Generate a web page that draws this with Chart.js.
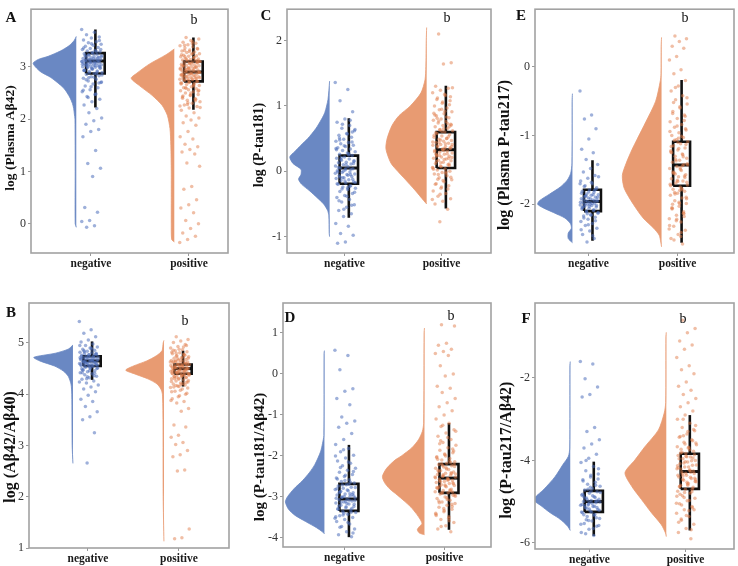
<!DOCTYPE html>
<html><head><meta charset="utf-8">
<script src="https://cdn.jsdelivr.net/npm/chart.js@4.4.1/dist/chart.umd.min.js"></script>
<style>
html,body{margin:0;padding:0;background:#fff;}
#wrap{position:relative;width:738px;height:566px;overflow:hidden;background:#fff;}
canvas{position:absolute;}
</style></head><body><div id="wrap">
<canvas id="cA" width="245" height="280" style="left:0px;top:0px"></canvas>
<canvas id="cC" width="250" height="280" style="left:245px;top:0px"></canvas>
<canvas id="cE" width="243" height="280" style="left:495px;top:0px"></canvas>
<canvas id="cB" width="245" height="286" style="left:0px;top:280px"></canvas>
<canvas id="cD" width="250" height="286" style="left:245px;top:280px"></canvas>
<canvas id="cF" width="243" height="286" style="left:495px;top:280px"></canvas>
</div>
<script>
// ---------- DATA ----------
const categories = ['negative', 'positive'];
const titleA = 'log (Plasma A\u03b242)';
const titleB = 'log (A\u03b242/A\u03b240)';
const titleC = 'log (P-tau181)';
const titleD = 'log (P-tau181/A\u03b242)';
const titleE = 'log (Plasma P-tau217)';
const titleF = 'log (P-tau217/A\u03b242)';
const signifLabel = 'b';

const yTicksA = [0, 1, 2, 3];
const yTicksB = [1, 2, 3, 4, 5];
const yTicksC = [-1, 0, 1, 2];
const yTicksD = [-4, -3, -2, -1, 0, 1];
const yTicksE = [-2, -1, 0];
const yTicksF = [-6, -4, -2];

// violin outlines: levels (y) and relative density
const vA_negY = [3.58, 3.5, 3.4, 3.3, 3.2, 3.14, 3.07, 3.0, 2.9, 2.8, 2.7, 2.6, 2.5, 2.4, 2.3, 2.2, 2.1, 2.0, 1.0, 0.0, -0.07];
const vA_negD = [0, 0.05, 0.17, 0.37, 0.65, 0.88, 1.0, 0.95, 0.82, 0.6, 0.44, 0.3, 0.21, 0.14, 0.09, 0.06, 0.045, 0.03, 0.025, 0.025, 0];
const vA_posY = [3.34, 3.23, 3.05, 2.87, 2.78, 2.64, 2.45, 2.26, 2.07, 1.82, 1.5, 1.0, 0.5, 0.0, -0.3, -0.35];
const vA_posD = [0, 0.19, 0.58, 0.88, 1.0, 0.81, 0.51, 0.28, 0.16, 0.1, 0.08, 0.07, 0.07, 0.07, 0.06, 0];

const vB_negY = [4.96, 4.88, 4.8, 4.72, 4.65, 4.55, 4.45, 4.35, 4.2, 4.0, 3.0, 2.65];
const vB_negD = [0, 0.12, 0.45, 1.0, 0.85, 0.47, 0.24, 0.12, 0.05, 0.03, 0.02, 0];
const vB_posY = [5.05, 5.0, 4.85, 4.75, 4.65, 4.55, 4.47, 4.4, 4.3, 4.2, 4.1, 4.0, 3.5, 2.0, 1.13];
const vB_posD = [0, 0.02, 0.05, 0.2, 0.45, 0.8, 1.0, 0.78, 0.42, 0.18, 0.08, 0.04, 0.025, 0.02, 0];

const vC_negY = [1.38, 1.1, 0.9, 0.8, 0.65, 0.5, 0.4, 0.3, 0.22, 0.12, 0.03, -0.05, -0.12, -0.2, -0.3, -0.4, -0.5, -0.6, -0.68, -0.95, -1.0];
const vC_negD = [0, 0.04, 0.12, 0.2, 0.35, 0.55, 0.72, 0.88, 1.0, 0.92, 0.72, 0.72, 0.78, 0.7, 0.5, 0.32, 0.15, 0.05, 0.02, 0.01, 0];
const vC_posY = [2.2, 2.0, 1.6, 1.4, 1.2, 1.0, 0.85, 0.7, 0.5, 0.35, 0.2, 0.1, -0.1, -0.3, -0.45, -0.5];
const vC_posD = [0, 0.01, 0.02, 0.04, 0.14, 0.4, 0.68, 0.85, 0.97, 1.0, 0.93, 0.85, 0.56, 0.27, 0.07, 0];

const vD_negY = [0.57, 0.5, -1.5, -1.7, -1.9, -2.2, -2.4, -2.6, -2.8, -3.0, -3.12, -3.3, -3.45, -3.6, -3.75, -3.85, -3.9];
const vD_negD = [0, 0.01, 0.015, 0.05, 0.1, 0.24, 0.38, 0.56, 0.78, 0.95, 1.0, 0.92, 0.75, 0.48, 0.2, 0.05, 0];
const vD_posY = [1.12, 1.0, -1.2, -1.4, -1.6, -1.8, -2.0, -2.1, -2.3, -2.5, -2.65, -2.8, -2.95, -3.1, -3.25, -3.4, -3.55, -3.65, -3.72, -3.8, -3.88, -3.92];
const vD_posD = [0, 0.01, 0.02, 0.05, 0.14, 0.3, 0.55, 0.7, 0.9, 1.0, 0.95, 0.83, 0.65, 0.48, 0.32, 0.2, 0.1, 0.06, 0.12, 0.17, 0.12, 0];

const vE_negY = [-0.39, -0.5, -1.4, -1.55, -1.65, -1.75, -1.85, -1.95, -2.0, -2.05, -2.12, -2.2, -2.28, -2.35, -2.42, -2.5, -2.56];
const vE_negD = [0, 0.01, 0.015, 0.05, 0.15, 0.35, 0.65, 0.95, 1.0, 0.85, 0.55, 0.22, 0.06, 0.03, 0.12, 0.12, 0];
const vE_posY = [0.43, 0.3, -0.1, -0.2, -0.5, -0.8, -1.05, -1.2, -1.4, -1.58, -1.77, -2.0, -2.2, -2.35, -2.45, -2.55, -2.62];
const vE_posD = [0, 0.01, 0.015, 0.03, 0.15, 0.4, 0.62, 0.75, 0.9, 1.0, 0.95, 0.72, 0.47, 0.2, 0.06, 0.02, 0];

const vF_negY = [-1.6, -1.7, -3.7, -3.9, -4.1, -4.4, -4.7, -4.95, -5.1, -5.27, -5.4, -5.5, -5.6, -5.7];
const vF_negD = [0, 0.01, 0.015, 0.05, 0.2, 0.42, 0.72, 1.0, 0.8, 0.55, 0.32, 0.18, 0.07, 0];
const vF_posY = [-0.89, -1.0, -2.6, -2.85, -3.26, -3.67, -3.99, -4.3, -4.64, -4.95, -5.27, -5.56, -5.76, -5.85];
const vF_posD = [0, 0.01, 0.015, 0.05, 0.19, 0.52, 0.76, 1.0, 0.83, 0.6, 0.36, 0.12, 0.02, 0];

// individual observations (read approximately)
const pA_neg = [3.71,3.66,3.61,3.57,3.55,3.51,3.48,3.46,3.43,3.41,3.39,3.37,3.35,3.33,3.31,3.3,3.28,3.27,3.25,3.24,3.22,3.21,3.2,3.19,3.18,3.17,3.16,3.15,3.15,3.14,3.13,3.12,3.12,3.11,3.1,3.09,3.09,3.08,3.07,3.06,3.06,3.05,3.04,3.03,3.03,3.02,3.01,3.0,2.99,2.98,2.97,2.95,2.94,2.92,2.91,2.89,2.87,2.85,2.83,2.81,2.78,2.76,2.73,2.7,2.67,2.63,2.6,2.56,2.52,2.47,2.43,2.38,2.33,2.27,2.2,2.12,2.02,1.97,1.9,1.8,1.76,1.66,1.4,1.15,1.06,0.9,0.31,0.22,0.06,0.04,-0.04,-0.07,
  3.5,3.44,3.36,3.29,3.23,3.19,3.16,3.13,3.11,3.08,3.05,3.02,3.0,2.98,2.96,2.93,2.9,2.88,2.84,2.8,2.75,2.69,2.62,2.55,2.48,2.41,3.33,3.26,3.21,3.17,3.14,3.1,3.07,3.04,3.01,2.97,2.93,2.86,2.79,2.71];
const pA_pos = [3.56,3.53,3.5,3.47,3.45,3.42,3.4,3.38,3.36,3.34,3.32,3.3,3.28,3.27,3.25,3.24,3.22,3.21,3.2,3.19,3.17,3.16,3.15,3.14,3.13,3.12,3.11,3.1,3.09,3.08,3.07,3.06,3.05,3.04,3.03,3.02,3.01,3.0,2.99,2.98,2.97,2.96,2.95,2.94,2.93,2.92,2.91,2.9,2.89,2.88,2.87,2.86,2.85,2.84,2.83,2.82,2.81,2.8,2.79,2.78,2.77,2.76,2.75,2.74,2.72,2.71,2.69,2.68,2.66,2.64,2.62,2.6,2.58,2.56,2.54,2.52,2.5,2.47,2.45,2.42,2.39,2.36,2.33,2.3,2.27,2.24,2.21,2.17,2.12,2.06,2.02,1.98,1.93,1.88,1.76,1.66,1.62,1.52,1.47,1.42,1.37,1.33,1.16,1.1,0.71,0.66,0.46,0.36,0.3,0.21,0.06,0.0,-0.09,-0.18,-0.24,-0.3,-0.36,
  3.48,3.41,3.35,3.29,3.23,3.18,3.14,3.1,3.06,3.03,3.0,2.97,2.95,2.93,2.91,2.89,2.87,2.85,2.83,2.81,2.79,2.77,2.75,2.73,2.7,2.67,2.63,2.59,2.55,2.5,2.44,2.38,2.31,2.25,3.26,3.19,3.12,3.07,3.02,2.98,2.94,2.9,2.86,2.82,2.78,2.74,2.69,2.65,2.6,2.53,2.46,2.4,2.35,2.28,2.22,3.44,3.31,3.08,2.96,2.84];
const pB_neg = [5.42,5.26,5.19,5.12,5.06,5.02,4.98,4.95,4.92,4.9,4.88,4.86,4.84,4.82,4.81,4.79,4.78,4.77,4.76,4.75,4.74,4.73,4.72,4.71,4.7,4.69,4.68,4.67,4.66,4.65,4.64,4.63,4.62,4.61,4.6,4.59,4.58,4.57,4.56,4.55,4.54,4.53,4.51,4.5,4.48,4.46,4.44,4.42,4.4,4.38,4.35,4.32,4.29,4.26,4.22,4.18,4.14,4.1,4.05,3.98,3.9,3.86,3.76,3.66,3.56,3.5,3.25,2.66,
  4.95,4.88,4.83,4.8,4.77,4.74,4.72,4.7,4.68,4.66,4.64,4.62,4.6,4.58,4.56,4.53,4.5,4.46,4.42,4.36,4.3,4.24,4.9,4.85,4.78,4.73,4.69,4.65,4.61,4.57,4.52,4.47,4.41,4.34,4.71,4.67,4.63,4.59,4.55,4.49];
const pB_pos = [5.12,5.07,5.04,5.01,4.97,4.93,4.9,4.87,4.85,4.83,4.81,4.79,4.77,4.75,4.73,4.71,4.7,4.68,4.67,4.66,4.65,4.64,4.63,4.62,4.61,4.6,4.59,4.58,4.57,4.56,4.55,4.54,4.53,4.52,4.51,4.5,4.49,4.48,4.47,4.46,4.45,4.44,4.43,4.42,4.41,4.4,4.39,4.38,4.37,4.36,4.34,4.33,4.31,4.3,4.28,4.26,4.24,4.22,4.2,4.18,4.16,4.13,4.1,4.06,4.02,3.97,3.91,3.86,3.83,3.72,3.67,3.4,3.36,3.2,3.16,3.06,3.02,2.9,2.82,2.78,2.52,2.5,1.37,1.2,1.18,
  4.95,4.88,4.82,4.78,4.74,4.7,4.67,4.64,4.61,4.58,4.56,4.54,4.52,4.5,4.48,4.46,4.44,4.42,4.4,4.38,4.35,4.32,4.29,4.25,4.21,4.17,4.12,4.08,4.86,4.76,4.69,4.63,4.57,4.53,4.49,4.45,4.41,4.37,4.33,4.27,4.19,4.14,4.0,3.95,3.88,4.72,4.65,4.59,4.55,4.51,4.47,4.43,4.39,4.34,4.3,4.23,4.15,4.05,4.92,4.8];
const pC_neg = [1.36,1.25,1.08,0.91,0.8,0.75,0.7,0.66,0.62,0.58,0.55,0.52,0.49,0.46,0.44,0.42,0.4,0.38,0.36,0.34,0.32,0.3,0.28,0.26,0.24,0.22,0.2,0.19,0.17,0.16,0.14,0.13,0.11,0.1,0.08,0.07,0.05,0.04,0.02,0.01,-0.01,-0.02,-0.04,-0.05,-0.07,-0.08,-0.1,-0.11,-0.13,-0.14,-0.16,-0.18,-0.2,-0.22,-0.24,-0.26,-0.28,-0.31,-0.34,-0.37,-0.4,-0.43,-0.47,-0.51,-0.55,-0.6,-0.65,-0.69,-0.8,-0.84,-0.95,-0.98,-1.08,-1.1,
  0.78,0.72,0.64,0.57,0.51,0.45,0.39,0.33,0.27,0.21,0.15,0.1,0.06,0.03,0.0,-0.03,-0.06,-0.09,-0.12,-0.15,-0.19,-0.23,-0.27,-0.32,-0.38,-0.45,-0.52,-0.58,0.35,0.25,0.18,0.12,0.04,-0.01,-0.05,-0.1,-0.17,-0.25,0.48,0.6];
const pC_pos = [2.1,1.66,1.64,1.3,1.27,1.24,1.2,1.16,1.12,1.08,1.04,1.0,0.97,0.94,0.91,0.88,0.85,0.82,0.8,0.78,0.76,0.74,0.72,0.7,0.68,0.66,0.64,0.62,0.6,0.58,0.56,0.54,0.52,0.5,0.49,0.47,0.46,0.44,0.43,0.41,0.4,0.38,0.37,0.35,0.34,0.32,0.31,0.29,0.28,0.26,0.25,0.23,0.22,0.2,0.19,0.17,0.16,0.14,0.12,0.1,0.08,0.06,0.04,0.02,0.0,-0.02,-0.04,-0.07,-0.1,-0.13,-0.16,-0.19,-0.22,-0.26,-0.3,-0.34,-0.38,-0.42,-0.46,-0.5,-0.58,-0.77,
  1.28,1.18,1.1,1.02,0.95,0.89,0.83,0.77,0.71,0.65,0.59,0.53,0.48,0.45,0.42,0.39,0.36,0.33,0.3,0.27,0.24,0.21,0.18,0.15,0.11,0.07,0.03,-0.01,-0.05,-0.09,-0.14,-0.2,-0.27,-0.35,-0.43,0.92,0.81,0.69,0.61,0.55,0.5,0.44,0.38,0.32,0.26,0.2,0.13,0.05,-0.03,-0.12,1.14,1.06,0.86,0.73,0.63,0.41,0.35,0.23,0.09,-0.24];
const pD_neg = [0.58,0.45,0.1,-0.36,-0.42,-0.6,-0.75,-1.05,-1.15,-1.2,-1.3,-1.45,-1.6,-1.72,-1.82,-1.9,-1.98,-2.05,-2.12,-2.18,-2.24,-2.3,-2.35,-2.4,-2.45,-2.5,-2.54,-2.58,-2.62,-2.66,-2.7,-2.73,-2.76,-2.79,-2.82,-2.85,-2.88,-2.9,-2.93,-2.95,-2.98,-3.0,-3.02,-3.05,-3.07,-3.1,-3.12,-3.15,-3.17,-3.2,-3.23,-3.26,-3.29,-3.32,-3.35,-3.38,-3.42,-3.46,-3.5,-3.55,-3.6,-3.66,-3.72,-3.78,-3.85,-3.92,-3.97,
  -1.85,-2.0,-2.15,-2.28,-2.38,-2.47,-2.56,-2.64,-2.71,-2.77,-2.83,-2.89,-2.94,-2.99,-3.03,-3.08,-3.13,-3.18,-3.24,-3.3,-3.37,-3.44,-3.52,-3.62,-3.74,-3.88,-2.6,-2.8,-2.92,-3.01,-3.09,-3.16,-3.22,-3.28,-3.4,-3.48,-2.69,-2.86,-2.97,-3.11];
const pD_pos = [1.2,1.17,0.75,0.7,0.6,0.55,0.5,0.45,0.2,0.0,-0.05,-0.3,-0.35,-0.45,-0.6,-0.7,-0.8,-0.9,-1.0,-1.1,-1.2,-1.28,-1.36,-1.44,-1.52,-1.6,-1.67,-1.74,-1.8,-1.86,-1.92,-1.97,-2.02,-2.06,-2.1,-2.14,-2.18,-2.21,-2.24,-2.27,-2.3,-2.33,-2.36,-2.39,-2.42,-2.45,-2.47,-2.5,-2.52,-2.55,-2.57,-2.6,-2.62,-2.65,-2.67,-2.7,-2.72,-2.75,-2.78,-2.81,-2.84,-2.87,-2.9,-2.93,-2.96,-3.0,-3.04,-3.08,-3.12,-3.16,-3.2,-3.25,-3.3,-3.36,-3.42,-3.48,-3.55,-3.62,-3.7,-3.78,-3.85,
  -1.25,-1.4,-1.55,-1.7,-1.83,-1.95,-2.04,-2.12,-2.19,-2.26,-2.32,-2.38,-2.43,-2.48,-2.53,-2.58,-2.63,-2.68,-2.73,-2.79,-2.85,-2.91,-2.98,-3.06,-3.14,-3.23,-3.33,-3.45,-3.58,-3.72,-2.2,-2.29,-2.35,-2.41,-2.46,-2.51,-2.56,-2.61,-2.66,-2.71,-2.77,-2.83,-2.89,-2.95,-3.02,-3.1,-3.18,-3.28,-3.4,-3.52,-1.63,-1.88,-2.0,-2.08,-2.16,-2.23,-2.44,-2.59,-2.74,-2.88];
const pE_neg = [-0.35,-0.7,-0.76,-0.9,-1.05,-1.2,-1.25,-1.35,-1.42,-1.48,-1.53,-1.58,-1.62,-1.66,-1.7,-1.73,-1.76,-1.79,-1.81,-1.83,-1.85,-1.86,-1.87,-1.89,-1.9,-1.91,-1.92,-1.94,-1.95,-1.96,-1.97,-1.98,-1.99,-2.0,-2.01,-2.02,-2.03,-2.04,-2.06,-2.07,-2.09,-2.11,-2.13,-2.15,-2.17,-2.19,-2.22,-2.25,-2.28,-2.31,-2.35,-2.39,-2.44,-2.5,-2.55,
  -1.6,-1.68,-1.74,-1.78,-1.82,-1.84,-1.86,-1.88,-1.9,-1.92,-1.93,-1.95,-1.96,-1.97,-1.99,-2.0,-2.02,-2.03,-2.05,-2.08,-2.1,-2.12,-2.16,-2.2,-2.24,-2.3,-2.37,-2.46,-1.88,-1.94,-2.0,-2.04,-1.8,-2.14,-1.7];
const pE_pos = [0.45,0.41,0.37,0.3,0.27,0.15,0.1,-0.04,-0.1,-0.2,-0.28,-0.35,-0.42,-0.48,-0.54,-0.6,-0.65,-0.7,-0.75,-0.8,-0.84,-0.88,-0.92,-0.96,-1.0,-1.03,-1.06,-1.09,-1.12,-1.15,-1.18,-1.21,-1.24,-1.27,-1.3,-1.33,-1.36,-1.39,-1.42,-1.45,-1.48,-1.51,-1.54,-1.57,-1.6,-1.63,-1.66,-1.69,-1.72,-1.75,-1.78,-1.81,-1.84,-1.87,-1.91,-1.95,-1.99,-2.03,-2.07,-2.11,-2.16,-2.21,-2.26,-2.32,-2.38,-2.44,-2.5,-2.58,
  -0.3,-0.45,-0.58,-0.68,-0.78,-0.86,-0.94,-1.01,-1.07,-1.13,-1.19,-1.25,-1.31,-1.37,-1.43,-1.49,-1.55,-1.61,-1.67,-1.73,-1.79,-1.85,-1.92,-1.99,-2.06,-2.14,-2.22,-2.31,-2.41,-2.52,-0.9,-1.04,-1.16,-1.28,-1.35,-1.41,-1.47,-1.53,-1.59,-1.65,-1.71,-1.77,-1.83,-1.9,-1.97,-2.05,-2.13,-2.24,-2.36,-2.47,-0.52,-0.72,-1.1,-1.22,-1.44,-1.56,-1.68,-1.8,-2.0,-2.18];
const pF_neg = [-1.6,-1.66,-2.02,-2.22,-2.4,-2.46,-3.2,-3.3,-3.5,-3.6,-3.7,-3.85,-3.95,-4.05,-4.15,-4.25,-4.33,-4.4,-4.47,-4.53,-4.58,-4.63,-4.68,-4.72,-4.76,-4.8,-4.84,-4.88,-4.91,-4.94,-4.97,-5.0,-5.03,-5.06,-5.09,-5.12,-5.15,-5.19,-5.23,-5.27,-5.31,-5.36,-5.41,-5.47,-5.53,-5.6,-5.67,-5.75,-5.82,
  -4.0,-4.2,-4.36,-4.5,-4.6,-4.7,-4.78,-4.86,-4.92,-4.98,-5.02,-5.07,-5.11,-5.16,-5.21,-5.26,-5.32,-5.39,-5.46,-5.55,-5.65,-5.78,-4.45,-4.65,-4.82,-4.9,-4.96,-5.01,-5.05,-5.1,-5.14,-5.18,-5.25,-5.33,-5.44,-5.58,-4.75,-4.87,-4.99,-5.08];
const pF_pos = [-0.6,-0.8,-0.9,-1.1,-1.2,-1.3,-1.5,-1.7,-1.8,-1.9,-2.1,-2.2,-2.3,-2.4,-2.5,-2.6,-2.7,-2.8,-2.9,-3.0,-3.1,-3.2,-3.28,-3.36,-3.44,-3.5,-3.56,-3.62,-3.68,-3.73,-3.78,-3.83,-3.88,-3.92,-3.96,-4.0,-4.04,-4.08,-4.12,-4.16,-4.2,-4.24,-4.28,-4.32,-4.36,-4.4,-4.44,-4.48,-4.52,-4.56,-4.6,-4.65,-4.7,-4.75,-4.8,-4.86,-4.92,-4.98,-5.05,-5.12,-5.2,-5.28,-5.36,-5.45,-5.55,-5.65,-5.75,-5.9,
  -3.0,-3.15,-3.3,-3.42,-3.52,-3.6,-3.67,-3.74,-3.8,-3.86,-3.91,-3.96,-4.01,-4.06,-4.11,-4.16,-4.21,-4.26,-4.31,-4.36,-4.41,-4.46,-4.51,-4.57,-4.63,-4.7,-4.78,-4.87,-4.97,-5.08,-5.2,-5.34,-5.5,-5.68,-3.4,-3.58,-3.7,-3.82,-3.94,-4.03,-4.13,-4.23,-4.33,-4.43,-4.53,-4.64,-4.76,-4.9,-5.04,-5.22,-5.42,-3.25,-3.9,-4.18,-4.29,-4.38,-4.47,-4.6,-4.82,-5.15];

// box statistics: [lower whisker, Q1, median, Q3, upper whisker]
const bA_neg = [2.22, 2.87, 3.11, 3.26, 3.71];
const bA_pos = [2.18, 2.72, 2.9, 3.1, 3.56];
const bB_neg = [4.28, 4.55, 4.65, 4.74, 5.03];
const bB_pos = [4.15, 4.4, 4.5, 4.58, 4.85];
const bC_neg = [-0.71, -0.19, 0.05, 0.24, 0.81];
const bC_pos = [-0.57, 0.05, 0.33, 0.6, 1.31];
const bD_neg = [-3.98, -3.34, -3.05, -2.68, -1.73];
const bD_pos = [-3.8, -2.9, -2.54, -2.2, -1.2];
const bE_neg = [-2.53, -2.1, -1.96, -1.79, -1.36];
const bE_pos = [-2.56, -1.73, -1.43, -1.09, -0.19];
const bF_neg = [-5.83, -5.25, -5.0, -4.74, -4.03];
const bF_pos = [-5.7, -4.69, -4.27, -3.84, -2.9];

// ---------- STYLE / LAYOUT ----------
const SERIF = "'Liberation Serif', 'Times New Roman', serif";
const COL = {
  violin: ['#6a88c3', '#e89b72'],
  point: ['rgba(78,112,188,0.55)', 'rgba(226,126,76,0.5)'],
  box: '#111111'
};

const panels = [
  {id:'cA', left:0, top:0, padT:4, padR:17, yW:31, xH:27, xMin:0.388, xMax:2.398, yMin:-0.56, yMax:4.1,
   yTicks:yTicksA, title:titleA, tSize:13.5, tX:11, tY:138, letter:'A', lX:11, lY:18, bX:194, bY:20,
   vOff:-0.15, vW:[0.44,0.44], v:[[vA_negY,vA_negD],[vA_posY,vA_posD]], p:[pA_neg,pA_pos], b:[bA_neg,bA_pos]},
  {id:'cC', left:245, top:0, padT:4, padR:2, yW:42, xH:27, xMin:0.408, xMax:2.51, yMin:-1.25, yMax:2.48,
   yTicks:yTicksC, title:titleC, tSize:14, tX:259, tY:145, letter:'C', lX:266, lY:16, bX:447, bY:18,
   vOff:-0.153, vW:[0.41,0.42], v:[[vC_negY,vC_negD],[vC_posY,vC_posD]], p:[pC_neg,pC_pos], b:[bC_neg,bC_pos]},
  {id:'cE', left:495, top:0, padT:4, padR:2, yW:40, xH:27, xMin:0.4, xMax:2.633, yMin:-2.71, yMax:0.84,
   yTicks:yTicksE, title:titleE, tSize:16, tX:505, tY:155, letter:'E', lX:521, lY:16, bX:685, bY:18,
   vOff:-0.18, vW:[0.39,0.44], v:[[vE_negY,vE_negD],[vE_posY,vE_posD]], p:[pE_neg,pE_pos], b:[bE_neg,bE_pos]},
  {id:'cB', left:0, top:280, padT:23, padR:16, yW:29, xH:18, xMin:0.352, xMax:2.55, yMin:1, yMax:5.78,
   yTicks:yTicksB, title:titleB, tSize:16, tX:11, tY:447, letter:'B', lX:11, lY:313, bX:185, bY:321,
   vOff:-0.165, vW:[0.43,0.42], v:[[vB_negY,vB_negD],[vB_posY,vB_posD]], p:[pB_neg,pB_pos], b:[bB_neg,bB_pos]},
  {id:'cD', left:245, top:280, padT:23, padR:2, yW:38, xH:19, xMin:0.386, xMax:2.465, yMin:-4.22, yMax:1.73,
   yTicks:yTicksD, title:titleD, tSize:15, tX:260, tY:457, letter:'D', lX:290, lY:318, bX:451, bY:316,
   vOff:-0.2, vW:[0.39,0.42], v:[[vD_negY,vD_negD],[vD_posY,vD_posD]], p:[pD_neg,pD_pos], b:[bD_neg,bD_pos]},
  {id:'cF', left:495, top:280, padT:23, padR:2, yW:40, xH:17, xMin:0.433, xMax:2.505, yMin:-6.15, yMax:-0.18,
   yTicks:yTicksF, title:titleF, tSize:16, tX:507, tY:450, letter:'F', lX:526, lY:319, bX:683, bY:319,
   vOff:-0.2, vW:[0.38,0.43], v:[[vF_negY,vF_negD],[vF_posY,vF_posD]], p:[pF_neg,pF_pos], b:[bF_neg,bF_pos]}
];

const BOX_SHIFT = 0.045, BOX_HALF = 0.095, JIT_CENTER = 0.01, JIT_HALF = 0.105;

const panelDecor = {
  id: 'panelDecor',
  afterDraw(chart, args, o) {
    const ctx = chart.ctx, a = chart.chartArea;
    ctx.save();
    ctx.strokeStyle = '#a2a2a2';
    ctx.lineWidth = 1.6;
    ctx.strokeRect(a.left, a.top, a.right - a.left, a.bottom - a.top);
    ctx.fillStyle = '#111';
    ctx.textAlign = 'center';
    ctx.textBaseline = 'middle';
    ctx.font = 'bold ' + o.letterSize + 'px ' + SERIF;
    ctx.fillText(o.letter, o.lX, o.lY);
    ctx.font = o.bSize + 'px ' + SERIF;
    ctx.fillText(o.bText, o.bX, o.bY);
    ctx.translate(o.tX, o.tY);
    ctx.rotate(-Math.PI / 2);
    ctx.font = 'bold ' + o.tSize + 'px ' + SERIF;
    ctx.fillText(o.title, 0, 0);
    ctx.restore();
  }
};

function buildDatasets(P) {
  const ds = [];
  for (let g = 0; g < 2; g++) {
    const c = g + 1;
    const base = c + P.vOff;
    const [vy, vd] = P.v[g];
    ds.push({
      data: vy.map((y, i) => ({x: base - vd[i] * P.vW[g], y: y})),
      borderColor: COL.violin[g], backgroundColor: COL.violin[g],
      borderWidth: 0.8, pointRadius: 0, fill: 'shape', tension: 0.25, order: 3
    });
    const bs = P.b[g];
    const bc = c + BOX_SHIFT;
    const lineStyle = {borderColor: COL.box, borderWidth: 2.6, pointRadius: 0, fill: false, tension: 0, order: 2, borderJoinStyle: 'miter'};
    ds.push(Object.assign({data: [{x: bc, y: bs[3]}, {x: bc, y: bs[4]}]}, lineStyle));
    ds.push(Object.assign({data: [{x: bc, y: bs[0]}, {x: bc, y: bs[1]}]}, lineStyle));
    ds.push(Object.assign({data: [
      {x: bc - BOX_HALF, y: bs[1]}, {x: bc + BOX_HALF, y: bs[1]}, {x: bc + BOX_HALF, y: bs[3]},
      {x: bc - BOX_HALF, y: bs[3]}, {x: bc - BOX_HALF, y: bs[1]}]}, lineStyle));
    ds.push(Object.assign({data: [{x: bc - BOX_HALF, y: bs[2]}, {x: bc + BOX_HALF, y: bs[2]}]}, lineStyle, {borderWidth: 3}));
    const pts = P.p[g];
    ds.push({
      data: pts.map((y, i) => ({x: c + JIT_CENTER + (((i * 0.6180339887 + 0.31 * g) % 1) - 0.5) * 2 * JIT_HALF, y: y})),
      showLine: false, pointRadius: 1.75, pointBorderWidth: 0, pointBackgroundColor: COL.point[g],
      pointBorderColor: 'rgba(0,0,0,0)', order: 1
    });
  }
  return ds;
}

panels.forEach(P => {
  const ctx = document.getElementById(P.id).getContext('2d');
  new Chart(ctx, {
    type: 'line',
    data: {datasets: buildDatasets(P)},
    plugins: [panelDecor],
    options: {
      responsive: false, animation: false, events: [],
      layout: {padding: {left: 0, right: P.padR, top: P.padT, bottom: 0}},
      plugins: {
        legend: {display: false}, tooltip: {enabled: false},
        panelDecor: {letter: P.letter, lX: P.lX - P.left, lY: P.lY - P.top, letterSize: 15,
          bText: signifLabel, bX: P.bX - P.left, bY: P.bY - P.top, bSize: 14,
          title: P.title, tX: P.tX - P.left, tY: P.tY - P.top, tSize: P.tSize}
      },
      scales: {
        x: {
          type: 'linear', min: P.xMin, max: P.xMax,
          afterFit(s) { s.height = P.xH; },
          afterBuildTicks(s) { s.ticks = [{value: 1}, {value: 2}]; },
          ticks: {callback: v => categories[v - 1], font: {family: SERIF, size: 11.5, weight: 'bold'}, color: '#1a1a1a', padding: 1, maxRotation: 0, autoSkip: false},
          grid: {drawOnChartArea: false, drawTicks: true, tickLength: 3, color: '#999'},
          border: {display: false}
        },
        y: {
          type: 'linear', min: P.yMin, max: P.yMax,
          afterFit(s) { s.width = P.yW; },
          afterBuildTicks(s) { s.ticks = P.yTicks.map(v => ({value: v})); },
          ticks: {callback: v => String(v), font: {family: SERIF, size: 12}, color: '#333', padding: 2, autoSkip: false},
          grid: {drawOnChartArea: false, drawTicks: true, tickLength: 3, color: '#999'},
          border: {display: false}
        }
      }
    }
  });
});
</script>
</body></html>
